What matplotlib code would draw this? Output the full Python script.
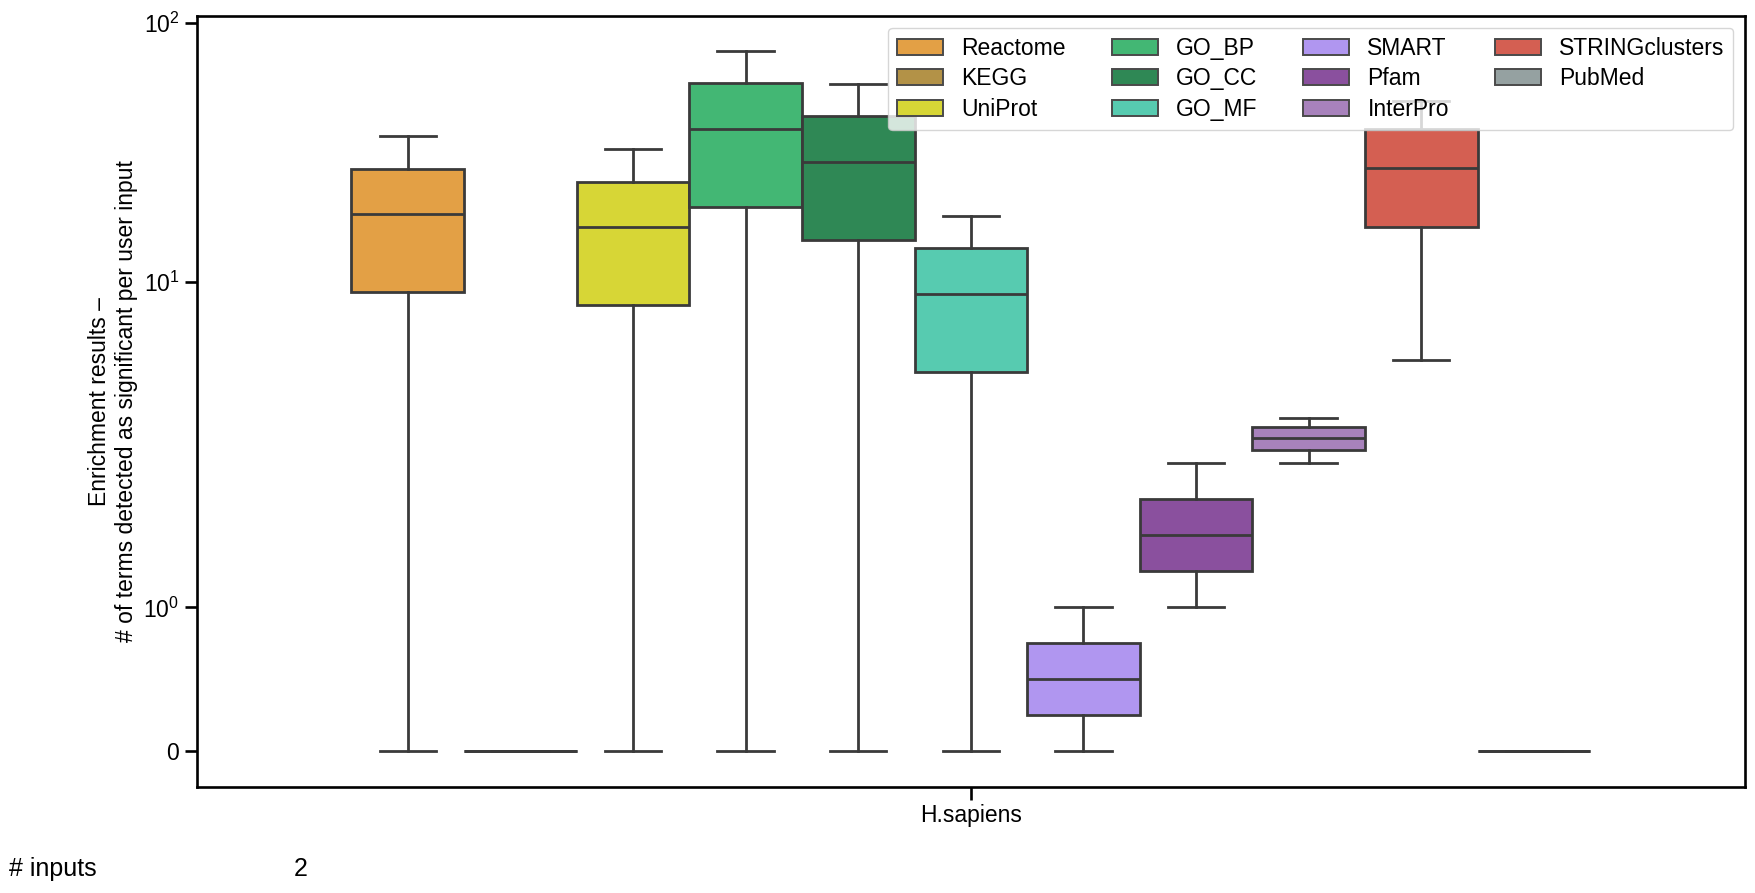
import numpy as np
import matplotlib
matplotlib.use("Agg")
import matplotlib.pyplot as plt
from matplotlib.patches import Patch
from matplotlib.ticker import NullLocator, FixedLocator, FixedFormatter

# two user inputs per category: smallest and largest count of significant terms
categories = ['Reactome', 'KEGG', 'UniProt', 'GO_BP', 'GO_CC', 'GO_MF',
              'SMART', 'Pfam', 'InterPro', 'STRINGclusters', 'PubMed']
input_low = [0, 0, 0, 0, 0, 0, 0, 1, 2, 5, 0]
input_high = [36.5, 0, 32.5, 78, 58, 18, 1, 2, 3, 50, 0]
colors = ['#e3a045', '#b39247', '#d7d636', '#43b774', '#2f8855', '#57cbb0',
          '#b096f0', '#8a509e', '#a882bc', '#d45f52', '#95a1a1']
species = ['H.sapiens']
n_inputs = [2]

plt.rcParams['font.family'] = ['Liberation Sans', 'DejaVu Sans']
plt.rcParams['font.size'] = 16.5

fig = plt.figure(figsize=(17.56, 8.93), dpi=100)
ax = fig.add_axes([0.112, 0.119, 0.8817, 0.863])

n = len(categories)
width = 0.8 / n
positions = [-0.4 + width * (i + 0.5) for i in range(n)]
data = [[lo, hi] for lo, hi in zip(input_low, input_high)]

line_col = '#3a3a3a'
lw = 2.0
bp = ax.boxplot(data, positions=positions, widths=width, patch_artist=True,
                showfliers=False, manage_ticks=False,
                boxprops=dict(edgecolor=line_col, linewidth=lw),
                medianprops=dict(color=line_col, linewidth=lw),
                whiskerprops=dict(color=line_col, linewidth=lw),
                capprops=dict(color=line_col, linewidth=lw))
for box, c in zip(bp['boxes'], colors):
    box.set_facecolor(c)

ax.set_yscale('symlog', linthresh=2, linscale=1)
ax.set_ylim(-0.245, 106)
ax.set_xlim(-0.5, 0.5)
ax.yaxis.set_major_locator(FixedLocator([0, 1, 10, 100]))
ax.yaxis.set_major_formatter(FixedFormatter(
    ['0', r'$\mathdefault{10^{0}}$', r'$\mathdefault{10^{1}}$', r'$\mathdefault{10^{2}}$']))
ax.yaxis.set_minor_locator(NullLocator())
ax.set_xticks([0])
ax.set_xticklabels(species)

for sp in ax.spines.values():
    sp.set_linewidth(1.9)
ax.tick_params(axis='both', which='major', length=9, width=1.9, labelsize=16.5)

ax.set_ylabel('Enrichment results \u2013\n# of terms detected as significant per user input',
              fontsize=16.5)

handles = [Patch(facecolor=c, edgecolor='#4a4a4a', linewidth=1.4, label=lab)
           for c, lab in zip(colors, categories)]
ax.legend(handles=handles, loc='upper right', ncol=4, fontsize=16.5,
          handlelength=2.0, columnspacing=2.0, labelspacing=0.34)

fig.text(0.005, 0.027, '# inputs', fontsize=18, va='center')
fig.text(0.171, 0.027, str(n_inputs[0]), fontsize=18, va='center', ha='center')

fig.savefig('out.png', dpi=100)
